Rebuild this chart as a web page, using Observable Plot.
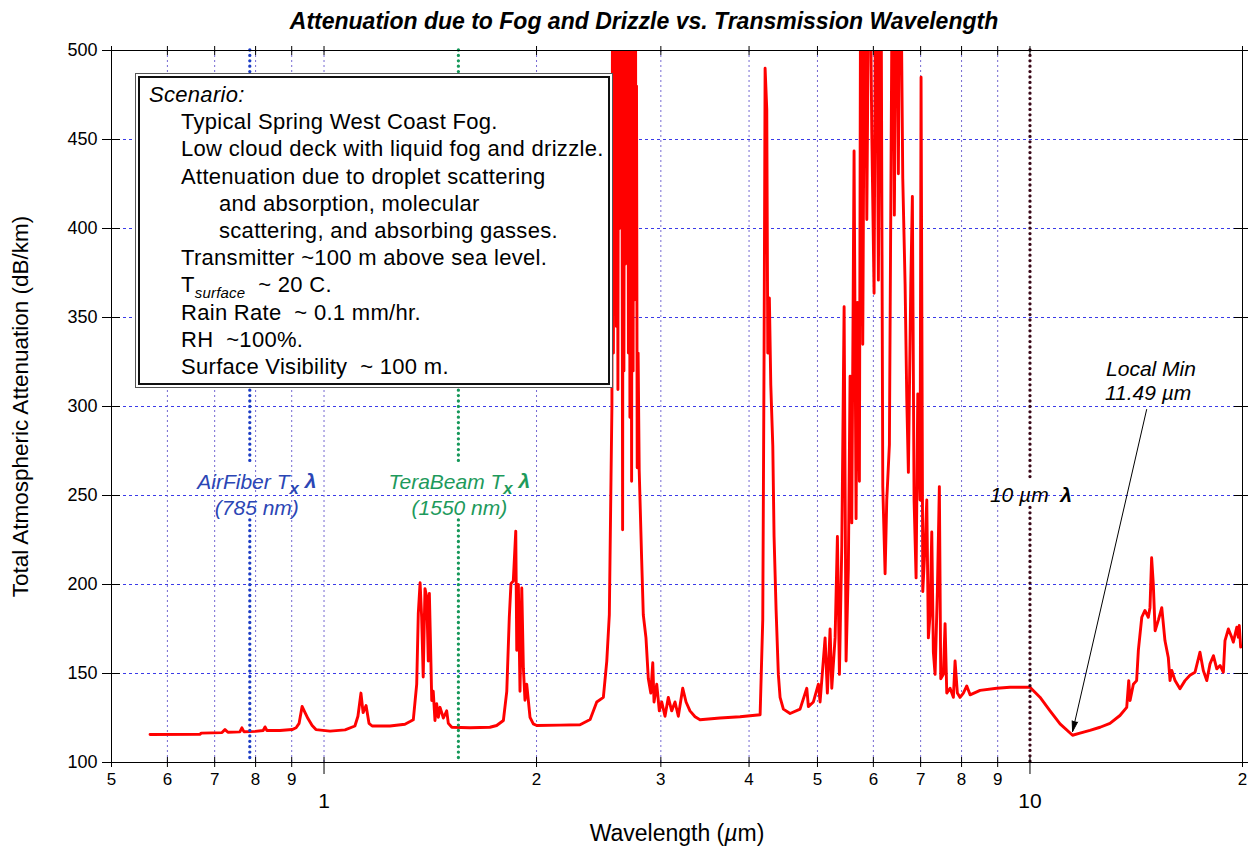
<!DOCTYPE html>
<html>
<head>
<meta charset="utf-8">
<script src="https://cdn.jsdelivr.net/npm/d3@7"></script>
<script src="https://cdn.jsdelivr.net/npm/@observablehq/plot@0.6"></script>
<style>
  body { margin: 0; background: #fff; font-family: "Liberation Sans", Arial, sans-serif; }
  #wrap { position: relative; width: 1248px; height: 850px; overflow: hidden; }
  #title { height: 38px; box-sizing: border-box; width: 1248px; padding-left: 40px; padding-top: 1px;
           text-align: center; font: bold italic 23px "Liberation Sans", Arial, sans-serif; line-height: 40px; color: #000; }
  #legend { position: absolute; left: 135px; top: 73px; width: 478px; height: 315px; box-sizing: border-box;
            background: #fff; border: 1px solid #555; box-shadow: inset 0 0 0 2px #fff, inset 0 0 0 4px #111;
            padding-top: 7px; font-size: 22px; letter-spacing: 0.3px; line-height: 27.2px; color: #000; }
  #legend div { white-space: pre; }
  #legend .sub { font-style: italic; font-size: 15px; position: relative; top: 6px; line-height: 0; letter-spacing: 0.2px; }
  #wrap svg { display: block; }
</style>
</head>
<body>
<div id="wrap">
  <div id="title"></div>
  <div id="legend"></div>
</div>
<script>
// ---------------- data ----------------
const titleText = "Attenuation due to Fog and Drizzle vs. Transmission Wavelength";
const xTitle = "Wavelength (µm)";
const yTitle = "Total Atmospheric Attenuation (dB/km)";

// wavelength (µm) and total attenuation (dB/km)
const wavelength = [
  0.567,0.667,0.670,0.717,0.724,0.731,0.760,0.765,0.770,0.799,0.820,0.825,0.830,0.866,0.901,0.913,0.922,0.931,0.940,0.949,
  0.962,0.974,1.020,1.071,1.106,1.117,1.128,1.136,1.147,1.158,1.170,1.240,1.302,1.324,1.338,1.353,1.360,1.368,1.375,1.382,
  1.390,1.398,1.405,1.410,1.416,1.421,1.428,1.436,1.444,1.452,1.460,1.476,1.492,1.500,1.517,1.610,1.718,1.756,1.795,1.815,
  1.830,1.840,1.854,1.869,1.875,1.885,1.895,1.906,1.916,1.926,1.937,1.958,1.979,2.001,2.159,2.305,2.382,2.434,2.487,2.515,
  2.536,2.550,2.5575,2.5634,2.5700,2.5759,2.5826,2.5885,2.5952,2.6012,2.6080,2.6140,2.6208,2.6268,2.6337,2.6397,2.6483,2.6535,2.6596,2.6657,
  2.6726,2.6787,2.6857,2.6918,2.6989,2.7051,2.7121,2.7192,2.7272,2.7334,2.7406,2.7468,2.7540,2.7603,2.7657,2.7711,2.7774,2.7856,2.7956,2.818,
  2.833,2.858,2.880,2.903,2.922,2.934,2.960,2.985,3.009,3.041,3.074,3.108,3.142,3.176,3.222,3.257,3.299,3.354,3.409,3.638,
  3.884,4.147,4.183,4.201,4.215,4.238,4.252,4.274,4.294,4.322,4.340,4.369,4.401,4.426,4.474,4.573,4.724,4.829,4.854,4.934,
  5.015,5.043,5.126,5.164,5.210,5.239,5.296,5.336,5.371,5.413,5.454,5.489,5.530,5.561,5.592,5.634,5.671,5.695,5.733,5.759,
  5.796,5.840,5.873,5.922,5.969,6.014,6.053,6.099,6.147,6.187,6.234,6.268,6.322,6.350,6.392,6.425,6.476,6.510,6.546,6.604,
  6.654,6.691,6.726,6.779,6.814,6.852,6.897,6.935,6.987,7.010,7.049,7.102,7.142,7.179,7.219,7.259,7.297,7.338,7.393,7.441,
  7.475,7.539,7.581,7.623,7.706,7.789,7.832,7.891,7.961,8.047,8.137,8.225,8.498,8.974,9.369,10.0,10.33,10.67,11.03,11.49,
  11.77,12.16,12.57,12.98,13.41,13.71,13.80,13.86,14.01,14.16,14.24,14.40,14.55,14.71,14.79,14.87,14.95,15.04,15.20,15.37,
  15.53,15.70,15.79,15.88,16.05,16.31,16.58,16.85,17.13,17.41,17.60,17.80,17.99,18.19,18.39,18.59,18.79,18.89,19.10,19.31,
  19.41,19.63,19.73,19.79,19.88
];
const attenuation = [
  115.7,115.8,116.5,116.8,118.5,117,117.2,119.5,117.3,117.5,118,120,118,118,118.5,119.5,122,131.5,128,124.7,
  120.8,118.5,117.6,118.3,120.5,126,139,128,132,122,120.5,120.5,121.5,123,124,144,183.7,201,181.6,148,
  197.7,193,157,195,163,134.8,140,123.6,133,125.4,131,125,129,122,119.8,119.5,119.8,120.8,123.6,140,
  181.6,200.5,202,230,163,200,140,198,153,135,144,125.4,121.7,120.8,121,121.2,124.2,134,136.6,157,
  183,260,300,600,330,600,356,600,345,600,309.5,600,400,600,420,600,230.8,600,320,600,
  380,600,454,600,330,600,294,600,258,600,320,600,360,600,394.6,480,265.6,330,264,214,
  183,170,147,139,156,134,144,129,134,126,136.6,129,134,126,141.7,134,129,125.7,124,125,
  125.7,126.8,180.4,330,490,467,330,361,312,278,227,185.6,149.5,136.6,130,127.5,130,141.7,131.4,134,
  144,134,170,139,175,141.7,170,227,149.5,222,356,157,209,317,234.6,443.6,237,358.5,258,600,
  335,600,405,600,454,363.6,600,371,600,255,206,247.5,278.5,407.5,600,407.5,600,430.7,600,428,
  369,304,263,369,418,247.5,203.7,307,247.5,485,196,222,247.5,170,183,229.5,162,149.5,196,255,
  147,149.5,178,139,141.7,136.6,157,139,136.6,139,143,138,140.5,141.7,142.3,142.3,136.7,129.2,121.7,115.3,
  116.5,118,119.8,122,126.4,131,146,134.8,144,146,163,181.6,185.4,181.6,187,215,200.5,174,180,187,
  168.5,159,146,151.7,146,141.4,146,149,150.7,162,151.7,146,155.4,160,152.6,154.5,150.7,168.5,175,170.4,
  167.6,176,170.4,177,164.8
];

// axis ticks
const xMinorTicks = [0.5,0.6,0.7,0.8,0.9,2,3,4,5,6,7,8,9,20];
const xMajorTicks = [1,10];
const xGridLines = [0.6,0.7,0.8,0.9,1,2,3,4,5,6,7,8,9];
const yTicks = [100,150,200,250,300,350,400,450,500];
const yGridLines = [150,200,250,300,350,400,450];

// transmitter wavelength markers (µm) with the dB/km spans where they are drawn
const markerWavelengths = [0.785, 0.785, 1.55, 1.55, 10, 10];
const markerFrom = [500, 236, 500, 236, 500, 243];
const markerTo = [268.5, 100, 268.5, 100, 258, 100];
const markerColors = ["#1b3cc4", "#1b3cc4", "#16985a", "#16985a", "#3a0818", "#3a0818"];

// annotations
const airFiberLabels = ["AirFiber Tx λ", "(785 nm)"];
const teraBeamLabels = ["TeraBeam Tx λ", "(1550 nm)"];
const labelRowsY = [257.3, 242.7];
const tenMicronLabel = "10 µm λ";
const localMinLabels = ["Local Min", "11.49 µm"];
const localMinLabelX = [14.84, 14.70];
const localMinLabelY = [320.8, 307.3];
const arrowFrom = {x: 14.63, y: 298.3};
const arrowTo = {x: 11.49, y: 117.4};

const scenarioLines = [
  ["Scenario:", 0],
  ["Typical Spring West Coast Fog.", 1],
  ["Low cloud deck with liquid fog and drizzle.", 1],
  ["Attenuation due to droplet scattering", 1],
  ["and absorption, molecular", 2],
  ["scattering, and absorbing gasses.", 2],
  ["Transmitter ~100 m above sea level.", 1],
  ["T|surface|  ~ 20 C.", 1],
  ["Rain Rate  ~ 0.1 mm/hr.", 1],
  ["RH  ~100%.", 1],
  ["Surface Visibility  ~ 100 m.", 1]
];

// ---------------- build ----------------
document.getElementById("title").textContent = titleText;

const legend = document.getElementById("legend");
const indents = [13, 45, 83];
scenarioLines.forEach(([txt, lvl], i) => {
  const div = document.createElement("div");
  div.style.paddingLeft = indents[lvl] + "px";
  if (i === 0) div.style.fontStyle = "italic";
  const parts = txt.split("|");
  if (parts.length === 3) {
    div.appendChild(document.createTextNode(parts[0]));
    const s = document.createElement("span");
    s.className = "sub"; s.textContent = parts[1];
    div.appendChild(s);
    div.appendChild(document.createTextNode(parts[2]));
  } else {
    div.textContent = txt;
  }
  legend.appendChild(div);
});

const curve = wavelength.map((w, i) => ({w, a: attenuation[i]}));
const markers = markerWavelengths.map((x, i) => ({x, y1: markerFrom[i], y2: markerTo[i], c: markerColors[i]}));
const minorFmt = d => d < 1 ? String(Math.round(d * 10)) : d >= 10 ? String(Math.round(d / 10)) : String(d);
const font = "Liberation Sans, Arial, sans-serif";

const H = 812, mT = 12, mB = 88, mL = 111, mR = 6;
const frameH = H - mT - mB, frameW = 1248 - mL - mR;

const chart = Plot.plot({
  width: 1248,
  height: H,
  marginTop: mT, marginBottom: mB, marginLeft: mL, marginRight: mR,
  x: {type: "log", domain: [0.5, 20], label: null},
  y: {domain: [100, 500], label: null},
  color: {type: "identity"},
  style: {fontFamily: font, background: "white", overflow: "visible", color: "#000"},
  marks: [
    Plot.ruleY(yGridLines, {y: d => d, stroke: "#3b3be8", strokeDasharray: "3,3", strokeWidth: 1}),
    Plot.ruleX(xGridLines, {x: d => d, stroke: "#7468d2", strokeDasharray: "2,3", strokeWidth: 1}),
    Plot.line(curve, {x: "w", y: "a", stroke: "#ff0000", strokeWidth: 2.9, clip: true}),
    Plot.ruleX(markers, {x: "x", y1: "y1", y2: "y2", stroke: "c", strokeWidth: 3.3, strokeDasharray: "0,5.4", strokeLinecap: "round"}),
    Plot.frame({stroke: "#000"}),
    // crossing ticks
    Plot.tickX(xMinorTicks.concat(xMajorTicks), {x: d => d, insetTop: frameH - 5, stroke: "#000"}),
    Plot.tickX(xMinorTicks.concat(xMajorTicks), {x: d => d, insetBottom: frameH - 5, stroke: "#000"}),
    Plot.tickY(yTicks, {y: d => d, insetRight: frameW - 9, stroke: "#000"}),
    Plot.tickY(yTicks, {y: d => d, insetLeft: frameW - 8, stroke: "#000"}),
    Plot.axisX({ticks: xMinorTicks, tickFormat: () => "", tickSize: 5, label: null}),
    Plot.text(xMinorTicks, {x: d => d, text: minorFmt, frameAnchor: "bottom", lineAnchor: "top", dy: 10, fontSize: 17}),
    Plot.axisX({ticks: xMajorTicks, tickFormat: () => "", tickSize: 12, label: null}),
    Plot.text(xMajorTicks, {x: d => d, text: d => String(d), frameAnchor: "bottom", lineAnchor: "top", dy: 31, fontSize: 21}),
    Plot.axisX({anchor: "top", ticks: xMinorTicks.concat(xMajorTicks), tickFormat: () => "", tickSize: 5, label: null}),
    Plot.axisY({ticks: yTicks, tickSize: 9, tickPadding: 5, fontSize: 18, label: null}),
    Plot.axisY({anchor: "right", ticks: yTicks, tickFormat: () => "", tickSize: 6, label: null}),
    // axis titles
    Plot.text([yTitle], {text: d => d, frameAnchor: "left", textAnchor: "middle", lineAnchor: "middle", dx: -91, rotate: -90, fontSize: 22.5}),
    Plot.text([xTitle], {text: d => d, frameAnchor: "bottom", textAnchor: "middle", lineAnchor: "middle", dy: 71, fontSize: 23}),
    // annotations
    Plot.text(airFiberLabels, {x: () => 0.785, y: (d, i) => labelRowsY[i], text: d => d, dx: 7, fontSize: 21, fontStyle: "italic", fill: "#2b46b5"}),
    Plot.text(teraBeamLabels, {x: () => 1.55, y: (d, i) => labelRowsY[i], text: d => d, dx: 1, fontSize: 21, fontStyle: "italic", fill: "#1d9a5c"}),
    Plot.text([tenMicronLabel], {x: () => 10, y: () => 250, text: d => d, dx: 1, fontSize: 21, fontStyle: "italic", fill: "#000"}),
    Plot.text(localMinLabels, {x: (d, i) => localMinLabelX[i], y: (d, i) => localMinLabelY[i], text: d => d, fontSize: 21, fontStyle: "italic", fill: "#000"}),
    Plot.arrow([arrowFrom], {x1: d => d.x, y1: d => d.y, x2: () => arrowTo.x, y2: () => arrowTo.y, stroke: "#000", strokeWidth: 1, headLength: 16, headAngle: 30})
  ]
});

document.getElementById("wrap").appendChild(chart);

// rich text: subscripts, bold lambda, italic mu
function rich(match, parts) {
  d3.select(chart).selectAll("text").filter(function() { return this.textContent === match; }).each(function() {
    const t = d3.select(this);
    t.text(null);
    parts.forEach(p => {
      const s = t.append("tspan").text(p.t);
      if (p.sub) s.attr("dy", "0.3em").attr("font-size", "0.8em").attr("font-weight", "bold");
      if (p.up) s.attr("dy", "-0.3em");
      if (p.bold) s.attr("font-weight", "bold");
      if (p.it) s.attr("font-style", "italic");
    });
  });
}
rich("AirFiber Tx λ", [{t: "AirFiber T"}, {t: "x", sub: true}, {t: " λ", up: true, bold: true}]);
rich("TeraBeam Tx λ", [{t: "TeraBeam T"}, {t: "x", sub: true}, {t: " λ", up: true, bold: true}]);
rich("10 µm λ", [{t: "10 µm  "}, {t: "λ", bold: true}]);
rich(xTitle, [{t: "Wavelength ("}, {t: "µ", it: true}, {t: "m)"}]);

// filled arrowhead
d3.select(chart).selectAll('g[aria-label="arrow"] path').attr("fill", "#000");
</script>
</body>
</html>
